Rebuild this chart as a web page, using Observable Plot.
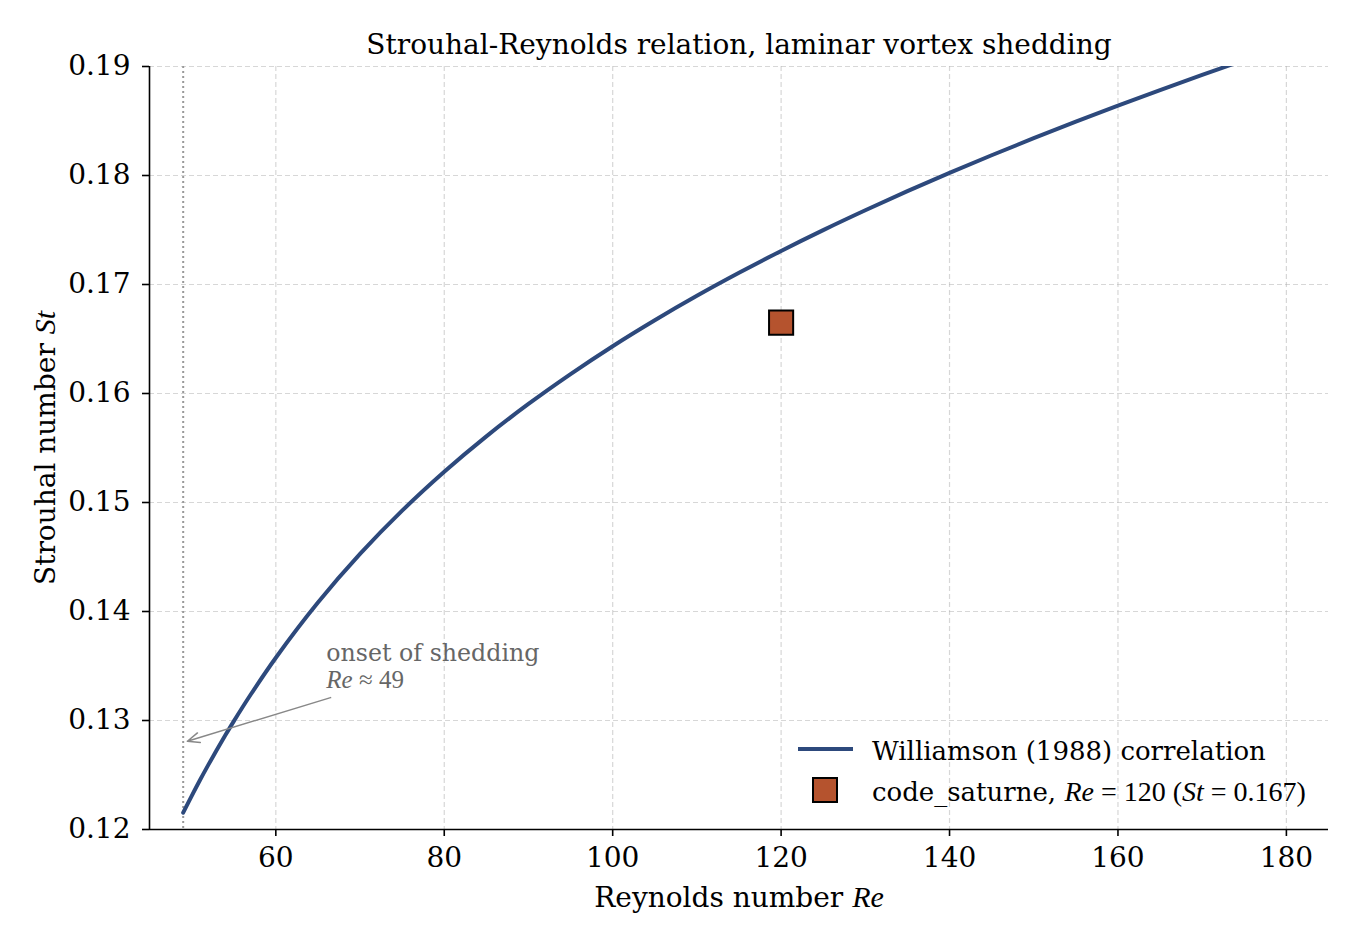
<!DOCTYPE html>
<html><head><meta charset="utf-8">
<script src="https://cdn.jsdelivr.net/npm/d3@7"></script>
<script src="https://cdn.jsdelivr.net/npm/@observablehq/plot@0.6"></script>
<style>
html,body{margin:0;padding:0;background:#fff;}
#wrap{position:relative;width:1360px;height:951px;overflow:hidden;}
.lg{position:absolute;font-family:"DejaVu Serif";font-size:26px;color:#000;white-space:nowrap;line-height:1;}
.m{font-family:"Liberation Serif";font-size:28px;}
.mi{font-family:"Liberation Serif";font-style:italic;font-size:28px;}
</style></head><body><div id="wrap"></div>
<script>
// Williamson (1988) correlation
const reynolds = [49, 50, 51, 52, 53, 54, 55, 57, 60, 65, 70, 75, 80, 85, 90, 95, 100, 105, 110, 115, 120, 125, 130, 135, 140, 145, 150, 155, 160, 165, 170, 175];
const strouhal = [0.12155, 0.12307, 0.12454, 0.12595, 0.12732, 0.12864, 0.12992, 0.13236, 0.13576, 0.14082, 0.14528, 0.14925, 0.15282, 0.15607, 0.15904, 0.16178, 0.16434, 0.16672, 0.16896, 0.17107, 0.17308, 0.17499, 0.17681, 0.17856, 0.18024, 0.18186, 0.18342, 0.18494, 0.18641, 0.18784, 0.18923, 0.19059];
// code_saturne result
const simRe = [120];
const simSt = [0.1665];
const onsetRe = [49];
const xTicks = [60, 80, 100, 120, 140, 160, 180];
const yTicks = [0.12, 0.13, 0.14, 0.15, 0.16, 0.17, 0.18, 0.19];
const xDomain = [45, 185];
const yDomain = [0.12, 0.19];
const titleText = "Strouhal-Reynolds relation, laminar vortex shedding";
const curveLabel = "Williamson (1988) correlation";
const simLabel = "code_saturne, ";
const annotText = "onset of shedding";
const arrowFrom = {re: 66.5, st: 0.1321};
const arrowTo = {re: 49.5, st: 0.1281};
const annotPos = {re: 66, st: 0.1355};

const curve = reynolds.map((r, i) => ({re: r, st: strouhal[i]}));
const sim = simRe.map((r, i) => ({re: r, st: simSt[i]}));

const lineColor = "#2d497c";
const simColor = "#b5532e";
const gridStyle = {stroke: "#b0b0b0", strokeOpacity: 0.5, strokeDasharray: "5,3", strokeWidth: 1.2};

const chart = Plot.plot({
  width: 1360, height: 951,
  marginLeft: 149, marginRight: 32, marginTop: 66, marginBottom: 122,
  x: {domain: xDomain},
  y: {domain: yDomain},
  style: {fontFamily: "DejaVu Serif", fontSize: "28px", color: "#000", background: "#fff"},
  marks: [
    Plot.gridX(xTicks, gridStyle),
    Plot.gridY(yTicks, gridStyle),
    Plot.ruleX(onsetRe, {stroke: "#999", strokeDasharray: "2,3", strokeWidth: 2}),
    Plot.line(curve, {x: "re", y: "st", stroke: lineColor, strokeWidth: 4, curve: "catmull-rom", clip: true}),
    Plot.dot(sim, {x: "re", y: "st", symbol: "square", r: 13.6, fill: simColor, stroke: "#000", strokeWidth: 2}),
    Plot.arrow([arrowFrom], {x1: d => d.re, y1: d => d.st, x2: arrowTo.re, y2: arrowTo.st, stroke: "#888", strokeWidth: 1.5, headLength: 13, headAngle: 45}),
    Plot.text([annotPos], {x: "re", y: "st", text: [annotText], textAnchor: "start", lineAnchor: "bottom", fill: "#666", fontSize: 23.7}),
    Plot.text([annotPos], {x: "re", y: "st", text: ["Re ≈ 49"], textAnchor: "start", lineAnchor: "bottom", dy: 27, fill: "#666", fontSize: 23.7}),
    Plot.axisX(xTicks, {tickSize: 7, tickPadding: 11, label: null, strokeWidth: 1.6}),
    Plot.axisY(yTicks, {tickSize: 7, tickPadding: 12, label: null, strokeWidth: 1.6, tickFormat: d3.format(".2f")}),
    Plot.ruleX([xDomain[0]], {stroke: "#000", strokeWidth: 1.6}),
    Plot.ruleY([yDomain[0]], {stroke: "#000", strokeWidth: 1.6}),
    Plot.text([0], {frameAnchor: "top", dy: -13, lineAnchor: "bottom", textAnchor: "middle", text: [titleText], fontSize: 28}),
    Plot.text([0], {frameAnchor: "bottom", dy: 77, lineAnchor: "bottom", textAnchor: "middle", text: ["Reynolds number Re"], fontSize: 28}),
    Plot.text([0], {frameAnchor: "left", dx: -95, rotate: -90, lineAnchor: "bottom", textAnchor: "middle", text: ["Strouhal number St"], fontSize: 28})
  ]
});
document.getElementById("wrap").appendChild(chart);

const svg = d3.select(chart);
const mi = 'font-family="Liberation Serif" font-style="italic" font-size="30"';
function restyle(txt, html) {
  svg.selectAll("text").filter(function() { return this.textContent === txt; }).html(html);
}
restyle("Reynolds number Re", `Reynolds number <tspan ${mi}>Re</tspan>`);
restyle("Strouhal number St", `Strouhal number <tspan ${mi}>St</tspan>`);
restyle("Re ≈ 49", `<tspan font-family="Liberation Serif" font-style="italic" font-size="25">Re</tspan><tspan font-family="Liberation Serif" font-size="25"> ≈ 49</tspan>`);

// legend overlay
const wrap = document.getElementById("wrap");
const lg = document.createElement("div");
lg.innerHTML = `
<div style="position:absolute;left:798px;top:747px;width:55px;height:4px;background:${lineColor}"></div>
<div class="lg" style="left:872px;top:738px">${curveLabel}</div>
<div style="position:absolute;left:812px;top:777px;width:22px;height:22px;background:${simColor};border:2px solid #000"></div>
<div class="lg" style="left:872px;top:778px">${simLabel}<span class="mi">Re</span><span class="m"> = 120 (</span><span class="mi">St</span><span class="m"> = 0.167)</span></div>`;
wrap.appendChild(lg);
</script>
</body></html>
